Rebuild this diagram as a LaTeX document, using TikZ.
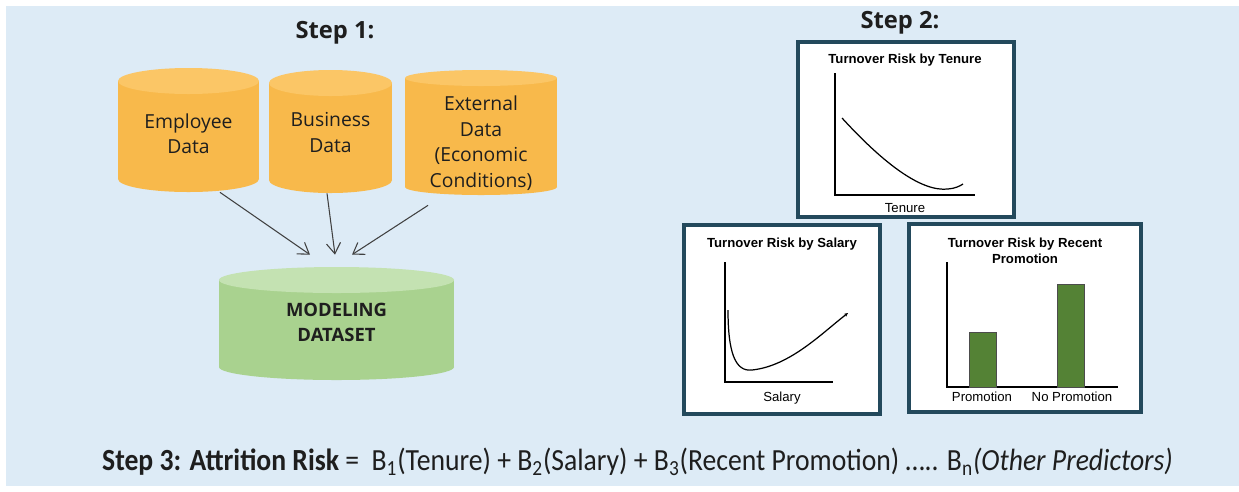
\documentclass[tikz,border=0pt]{standalone}
\usepackage{fontspec}
\usetikzlibrary{arrows.meta}
\newfontfamily\dbfont{Open Sans}
\newfontfamily\chartfont{Liberation Sans}
\newfontfamily\eqfont{Carlito}
\definecolor{bgblue}{HTML}{DDEBF6}
\definecolor{orbody}{HTML}{F8B94B}
\definecolor{ortop}{HTML}{FBC666}
\definecolor{grbody}{HTML}{A9D28F}
\definecolor{grtop}{HTML}{C4E2B2}
\definecolor{frame}{HTML}{23495C}
\definecolor{bargreen}{HTML}{548235}
\definecolor{ink}{HTML}{1E1E1E}
\newlength\pxl
\setlength\pxl{0.02cm}
% drum: x1, x2, ytop, ybot, ry, body colour, top colour
\newcommand\drumshape[7]{%
  \fill[#6] (#1,#3+#5) rectangle (#2,#4-#5);
  \fill[#6] ({(#1+#2)/2},#4-#5) ellipse [x radius={(#2-#1)/2}, y radius=#5];
  \fill[#7] ({(#1+#2)/2},#3+#5) ellipse [x radius={(#2-#1)/2}, y radius=#5];
}
\begin{document}
\begin{tikzpicture}[x=0.02cm,y=-0.02cm,
  steplabel/.style={font=\dbfont\bfseries\fontsize{13.5}{16}\selectfont, text=ink, inner sep=0pt},
  dbtext/.style={font=\dbfont\fontsize{11}{14.5}\selectfont, text=ink, align=center, inner sep=0pt},
  feed/.style={draw=black!75, line width=0.6pt, -{Straight Barb[length=6pt,width=8pt]}},
  chartbox/.style={draw=frame, line width=2.2pt, fill=white, inner sep=0pt},
  charttitle/.style={font=\chartfont\bfseries\fontsize{7.5}{9}\selectfont, align=center, inner sep=0pt},
  axislabel/.style={font=\chartfont\fontsize{7.5}{9}\selectfont, inner sep=0pt},
  axis/.style={line width=0.6pt},
  trend/.style={line width=0.7pt},
  bar/.style={fill=bargreen, draw=black!70, line width=0.4pt}]

% canvas
\useasboundingbox (0,0) rectangle (1239,491);
\fill[white] (0,0) rectangle (1239,491);
\fill[bgblue] (6,6) rectangle (1239,486);

% ---------- Step 1: data sources ----------
\node[steplabel] (s1) at (335,33) {Step 1:};

\drumshape{118}{259}{68}{192}{13}{orbody}{ortop}
\drumshape{269}{392}{70}{193}{13}{orbody}{ortop}
\drumshape{405}{557}{70}{195}{8}{orbody}{ortop}
\drumshape{219}{454}{267}{380}{13}{grbody}{grtop}

\node[dbtext, minimum width=141\pxl, minimum height=116\pxl] (emp) at (188.5,134) {Employee\\Data};
\node[dbtext, minimum width=123\pxl, minimum height=121\pxl] (bus) at (330.5,132.5) {Business\\Data};
\node[dbtext, minimum width=152\pxl, minimum height=124\pxl] (ext) at (481,143) {External\\Data\\(Economic\\Conditions)};
\node[dbtext, font=\dbfont\bfseries\fontsize{10.5}{14}\selectfont, minimum width=235\pxl, minimum height=111\pxl] (model) at (336.5,322.5) {MODELING\\DATASET};

\draw[feed] ([xshift=31.5\pxl]emp.south) -- ([xshift=-26.5\pxl,yshift=12\pxl]model.north);
\draw[feed] ([xshift=-3.5\pxl]bus.south) -- ([xshift=-1.5\pxl,yshift=12\pxl]model.north);
\draw[feed] ([xshift=-53\pxl]ext.south) -- ([xshift=15.5\pxl,yshift=12\pxl]model.north);

% ---------- Step 2: predictor charts ----------
\node[steplabel] (s2) at (900,23) {Step 2:};

% tenure
\node[chartbox, minimum width=216\pxl, minimum height=175\pxl] (tenbox) at (906,129.5) {};
\node[charttitle] (tentitle) at (905,60) {Turnover Risk by Tenure};
\draw[axis] (835,73) -- (835,195) -- (975,195);
\draw[trend] (842,118) .. controls (885,165) and (922,192) .. (948,189)
             .. controls (955,188.5) and (960,186) .. (963,184);
\node[axislabel] (tenlab) at (905,208) {Tenure};

% salary
\node[chartbox, minimum width=196\pxl, minimum height=189\pxl] (salbox) at (782,319.5) {};
\node[charttitle] (saltitle) at (782,244) {Turnover Risk by Salary};
\draw[axis] (725,262) -- (725,382) -- (833,382);
\draw[trend, -{Stealth[length=2.2pt,width=2pt]}] (728,310) .. controls (728,352) and (735,372) .. (752,370)
             .. controls (790,366) and (822,333) .. (848,313);
\node[axislabel] (sallab) at (782,398) {Salary};

% promotion
\node[chartbox, minimum width=232\pxl, minimum height=188\pxl] (probox) at (1025,318) {};
\node[charttitle] (protitle) at (1025,251) {Turnover Risk by Recent\\Promotion};
\draw[axis] (947,262) -- (947,387) -- (1118,387);
\draw[bar] (969,332) rectangle (996,387);
\draw[bar] (1057,284) rectangle (1084,387);
\node[axislabel] (prolab) at (982,397) {Promotion};
\node[axislabel] (noprolab) at (1072,397) {No Promotion};

% ---------- Step 3: model equation ----------
\node[inner sep=0pt, text=ink] (eq) at (637.5,462) {\scalebox{0.9}[1]{\eqfont\fontsize{17.5}{20}\selectfont
  \textbf{Step 3: Attrition Risk} = \ B\textsubscript{1}(Tenure) + B\textsubscript{2}(Salary) + B\textsubscript{3}(Recent Promotion) ….. B\textsubscript{n}\textit{(Other Predictors)}}};
\end{tikzpicture}
\end{document}
